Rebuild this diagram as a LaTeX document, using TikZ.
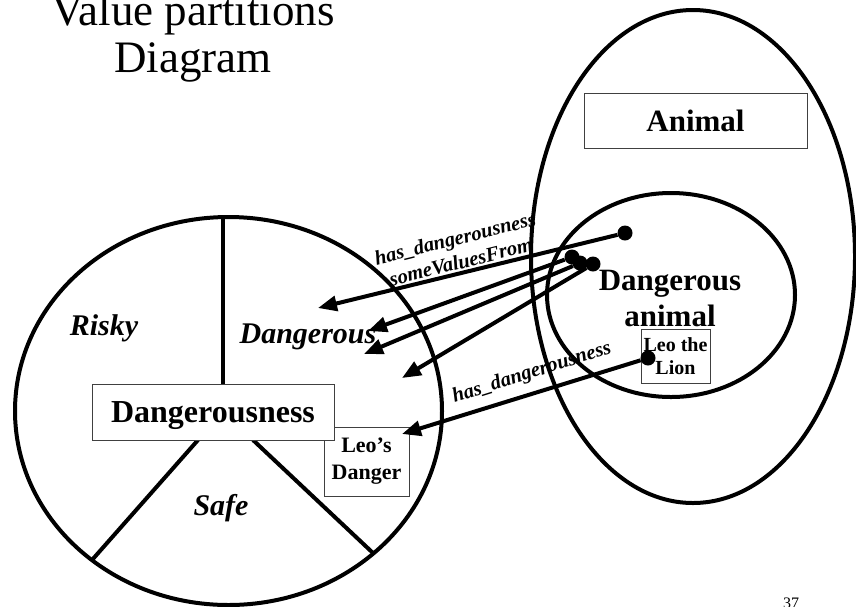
\documentclass[tikz,border=0pt]{standalone}
\usepackage{fontspec}
\setmainfont{Liberation Serif}
\usetikzlibrary{arrows.meta}

\begin{document}
\begin{tikzpicture}[x=1pt,y=-1pt]
\tikzstyle{heavy}=[line width=4pt]
\tikzstyle{box}=[draw=black!75,line width=1pt,fill=white,inner sep=0pt]
\tikzstyle{dot}=[circle,fill=black,minimum size=15pt,inner sep=0pt]
\tikzstyle{link}=[line width=4pt,-{Triangle[length=19pt,width=15pt]}]
\tikzstyle{part}=[font=\fontsize{30}{36}\selectfont\bfseries\itshape,anchor=base]
\tikzstyle{role}=[font=\fontsize{20.5}{24}\selectfont\bfseries\itshape,align=center,inner sep=0pt]
\useasboundingbox (0,0) rectangle (856,606);

\node[align=center,font=\fontsize{45}{47}\selectfont] (title) at (193,38) {Value partitions\\Diagram};
\node[anchor=base,font=\fontsize{16}{18}\selectfont] (pageno) at (791,608) {37};

\draw[heavy] (228.5,411) ellipse [x radius=213.5,y radius=194];
\draw[heavy] (223,217) -- (223,384);
\draw[heavy] (198,440) -- (92,560);
\draw[heavy] (253,440) -- (373,553);
\node[box,minimum width=85pt,minimum height=69pt,align=center,font=\fontsize{22}{27}\selectfont\bfseries] (leodanger) at (366.5,461.5) {Leo's\\Danger};
\node[box,minimum width=242pt,minimum height=56pt,text depth=0pt,font=\fontsize{32}{38}\selectfont\bfseries] (dangerousness) at (213,412) {Dangerousness};
\node[part] (risky) at (104,335) {Risky};
\node[part] (dangerous) at (308,343) {Dangerous};
\node[part] (safe) at (221,515) {Safe};

\draw[heavy] (693,256.5) ellipse [x radius=162,y radius=246.5];
\draw[heavy] (671,295) ellipse [x radius=124,y radius=102];
\node[box,minimum width=223pt,minimum height=55pt,text depth=0pt,font=\fontsize{31}{36}\selectfont\bfseries] (animal) at (695.5,120.5) {Animal};
\node[align=center,font=\fontsize{31}{36}\selectfont\bfseries] (dangerousanimal) at (670,298) {Dangerous\\animal};
\node[box,minimum width=69pt,minimum height=54pt,align=center,font=\fontsize{20}{23}\selectfont\bfseries] (leo) at (675.5,356) {Leo the\\Lion};

\node[dot] (src1) at (625,233) {};
\node[dot] (src2) at (572,257) {};
\node[dot] (src3) at (580,263) {};
\node[dot] (src4) at (593,264) {};
\node[dot] (leodot) at (648,358) {};
\coordinate (tip1) at (318,308);
\coordinate (tip2) at (368,331);
\coordinate (tip3) at (364,354);
\coordinate (tip4) at (402,378);
\coordinate (leotip) at (402,434);

\draw[link] (src1) -- (tip1);
\draw[link] (src2) -- (tip2);
\draw[link] (src3) -- (tip3);
\draw[link] (src4) -- (tip4);
\draw[link] (leodot) -- (leotip);

\node[role,rotate=14] (somevalues) at (458,250) {has\_dangerousness\\someValuesFrom};
\node[role,rotate=17.5] (hasdanger) at (532,373) {has\_dangerousness};
\end{tikzpicture}
\end{document}
